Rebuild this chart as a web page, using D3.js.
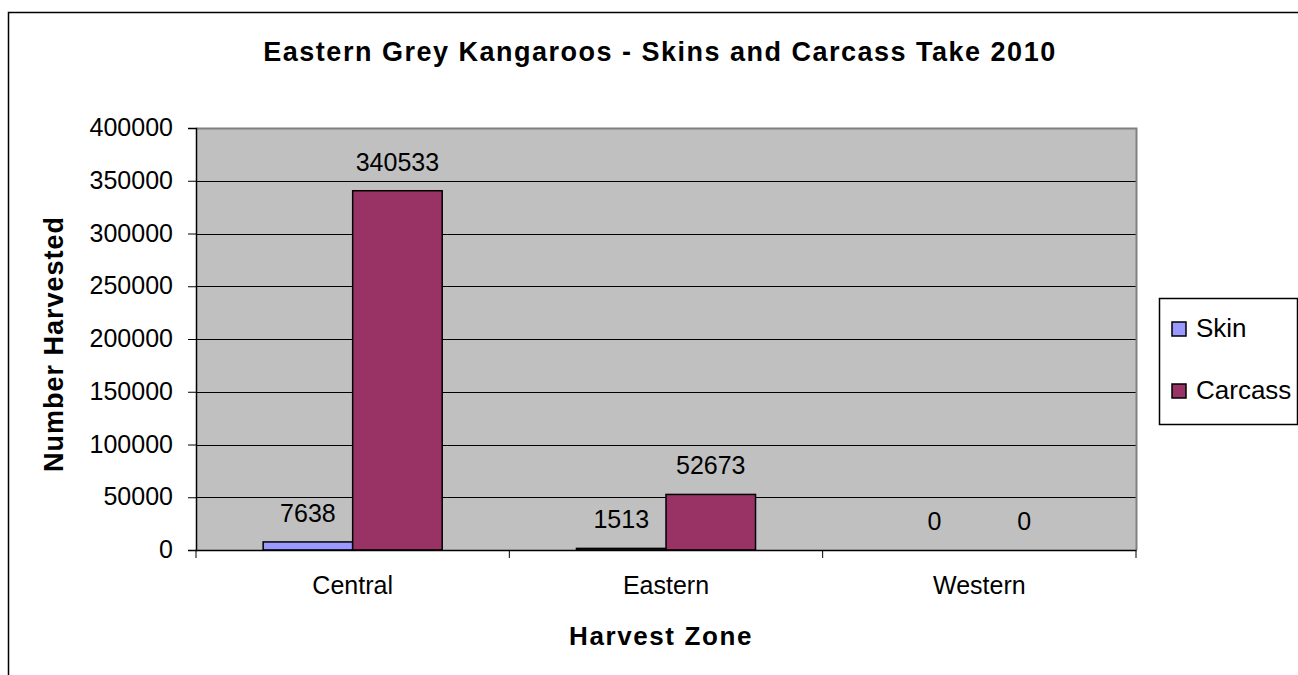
<!DOCTYPE html>
<html>
<head>
<meta charset="utf-8">
<script src="https://cdn.jsdelivr.net/npm/d3@7"></script>
<style>
  html, body { margin: 0; padding: 0; background: #fff; }
  svg { display: block; font-family: "Liberation Sans", Arial, sans-serif; }
</style>
</head>
<body>
<svg id="chart" width="1298" height="675"></svg>
<script>
const categories = ["Central", "Eastern", "Western"];
const seriesNames = ["Skin", "Carcass"];
const skinValues = [7638, 1513, 0];
const carcassValues = [340533, 52673, 0];
const yTicks = [0, 50000, 100000, 150000, 200000, 250000, 300000, 350000, 400000];
const seriesColors = ["#9999FF", "#993366"];

const svg = d3.select("#chart");
const plot = { left: 196, top: 128, right: 1136, bottom: 550 };

// outer chart border (right and bottom edges lie outside the picture)
svg.append("rect").attr("x", 8.5).attr("y", 12.5).attr("width", 1400).attr("height", 800)
  .attr("fill", "#fff").attr("stroke", "#000").attr("stroke-width", 1.5);

const y = d3.scaleLinear().domain([0, 400000]).range([plot.bottom, plot.top]);
const x0 = d3.scaleBand().domain(categories).range([plot.left, plot.right])
  .paddingInner(1.5 / 3.5).paddingOuter(0.75 / 3.5);
const x1 = d3.scaleBand().domain(seriesNames).range([0, x0.bandwidth()]);
const color = d3.scaleOrdinal().domain(seriesNames).range(seriesColors);

// plot background
svg.append("rect").attr("x", plot.left).attr("y", plot.top)
  .attr("width", plot.right - plot.left).attr("height", plot.bottom - plot.top)
  .attr("fill", "#C0C0C0");

// gridlines
svg.append("g").selectAll("line").data(yTicks.filter(t => t > 0 && t < 400000)).join("line")
  .attr("x1", plot.left).attr("x2", plot.right)
  .attr("y1", d => Math.round(y(d)) + 0.5).attr("y2", d => Math.round(y(d)) + 0.5)
  .attr("stroke", "#000").attr("stroke-width", 1);

// plot border top/right (gray)
svg.append("path")
  .attr("d", `M${plot.left},${plot.top + 0.5}H${plot.right + 0.5}V${plot.bottom}`)
  .attr("fill", "none").attr("stroke", "#808080").attr("stroke-width", 2);

// data
const rows = categories.map((c, i) => ({ cat: c, vals: [skinValues[i], carcassValues[i]] }));
const groups = svg.append("g").selectAll("g").data(rows).join("g")
  .attr("transform", d => `translate(${x0(d.cat)},0)`);

groups.selectAll("rect").data(d => d.vals.map((v, j) => ({ s: seriesNames[j], v })))
  .join("rect")
  .attr("x", d => x1(d.s)).attr("width", x1.bandwidth())
  .attr("y", d => y(d.v)).attr("height", d => plot.bottom - y(d.v))
  .attr("fill", d => color(d.s)).attr("stroke", "#000").attr("stroke-width", 1.5)
  .attr("display", d => d.v > 0 ? null : "none");

groups.selectAll("text").data(d => d.vals.map((v, j) => ({ s: seriesNames[j], v })))
  .join("text")
  .attr("x", d => x1(d.s) + x1.bandwidth() / 2)
  .attr("y", d => y(d.v) - 20)
  .attr("text-anchor", "middle").attr("font-size", 25).attr("fill", "#000")
  .text(d => d.v);

// y axis
const yAxis = d3.axisLeft(y).tickValues(yTicks).tickSize(8).tickPadding(15).tickFormat(d3.format("d"));
const gy = svg.append("g").attr("transform", `translate(${plot.left},0)`).call(yAxis);
gy.select(".domain").attr("stroke", "#000").attr("stroke-width", 1.5);
gy.selectAll(".tick line").attr("stroke", "#000");
gy.selectAll(".tick text").attr("font-size", 25).attr("font-family", "Liberation Sans, Arial, sans-serif")
  .attr("fill", "#000").attr("dy", "0.3em");

// x axis
const xAxis = d3.axisBottom(x0).tickSize(0).tickPadding(26);
const gx = svg.append("g").attr("transform", `translate(0,${plot.bottom})`).call(xAxis);
gx.select(".domain").attr("stroke", "#000").attr("stroke-width", 1.5);
gx.selectAll(".tick text").attr("font-size", 25).attr("font-family", "Liberation Sans, Arial, sans-serif")
  .attr("fill", "#000").attr("dy", "0.71em");
// category boundary ticks
const boundaries = d3.range(categories.length + 1).map(i => plot.left + i * x0.step());
gx.append("g").selectAll("line").data(boundaries).join("line")
  .attr("x1", d => d).attr("x2", d => d).attr("y1", 0).attr("y2", 8)
  .attr("stroke", "#000").attr("stroke-width", 1);

// title
svg.append("text").attr("x", 660).attr("y", 61).attr("text-anchor", "middle")
  .attr("font-size", 27).attr("font-weight", "bold").attr("letter-spacing", 1.5)
  .text("Eastern Grey Kangaroos - Skins and Carcass Take 2010");

// axis titles
svg.append("text").attr("transform", "translate(63,344) rotate(-90)").attr("text-anchor", "middle")
  .attr("font-size", 27).attr("font-weight", "bold").attr("letter-spacing", 1).text("Number Harvested");
svg.append("text").attr("x", 661).attr("y", 645).attr("text-anchor", "middle")
  .attr("font-size", 26).attr("font-weight", "bold").attr("letter-spacing", 1.6).text("Harvest Zone");

// legend
const lg = svg.append("g");
lg.append("rect").attr("x", 1159.5).attr("y", 298.5).attr("width", 138).attr("height", 126)
  .attr("fill", "#fff").attr("stroke", "#000").attr("stroke-width", 1.5);
const items = lg.selectAll("g").data(seriesNames).join("g")
  .attr("transform", (d, i) => `translate(0,${i * 62})`);
items.append("rect").attr("x", 1172).attr("y", 322).attr("width", 14).attr("height", 14)
  .attr("fill", d => color(d)).attr("stroke", "#000").attr("stroke-width", 1.5);
items.append("text").attr("x", 1196).attr("y", 337).attr("font-size", 26).text(d => d);
</script>
</body>
</html>
